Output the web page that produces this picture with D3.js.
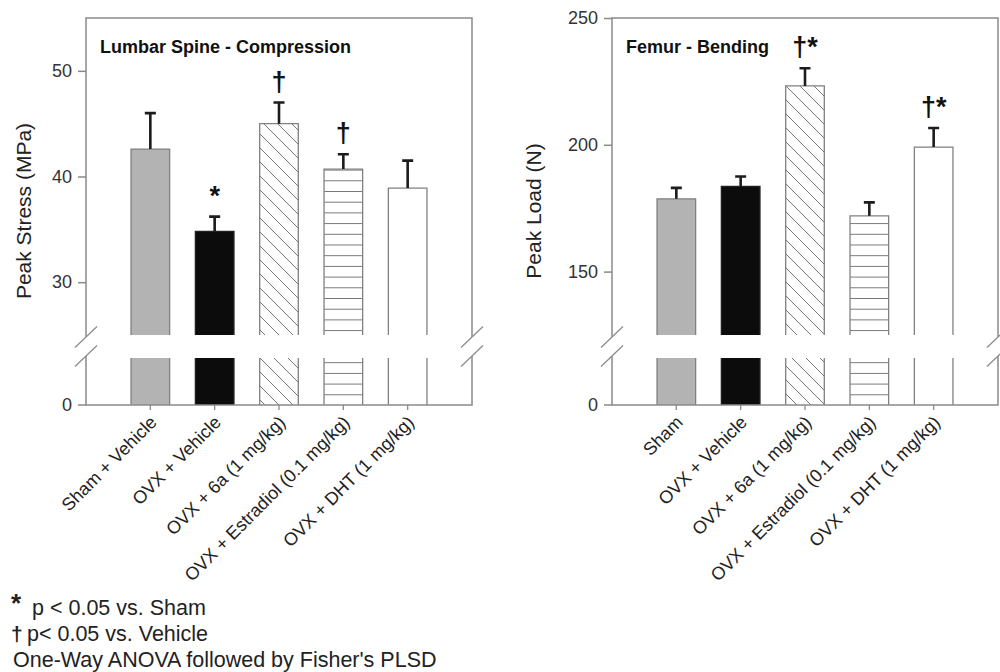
<!DOCTYPE html>
<html>
<head>
<meta charset="utf-8">
<script src="https://cdn.jsdelivr.net/npm/d3@7"></script>
<style>
  body { margin: 0; background: #fff; }
  svg { display: block; font-family: "Liberation Sans", Arial, sans-serif; }
</style>
</head>
<body>
<svg id="chart" width="1000" height="672"></svg>
<script>
// ---- data ----
const groupsSpine = ["Sham + Vehicle", "OVX + Vehicle", "OVX + 6a (1 mg/kg)", "OVX + Estradiol (0.1 mg/kg)", "OVX + DHT (1 mg/kg)"];
const groupsFemur = ["Sham", "OVX + Vehicle", "OVX + 6a (1 mg/kg)", "OVX + Estradiol (0.1 mg/kg)", "OVX + DHT (1 mg/kg)"];
const fills = ["gray", "black", "diag", "horiz", "white"];

const stressMean = [42.6, 34.8, 45.0, 40.7, 38.9];
const stressSem  = [3.4, 1.4, 2.0, 1.4, 2.6];
const stressSig  = ["", "*", "\u2020", "\u2020", ""];
const stressTicks = [30, 40, 50];

const loadMean = [178.7, 183.6, 223.2, 172.0, 199.1];
const loadSem  = [4.3, 3.9, 7.0, 5.3, 7.5];
const loadSig  = ["", "", "\u2020*", "", "\u2020*"];
const loadTicks = [150, 200, 250];

const legendLines = ["p < 0.05 vs. Sham", "p< 0.05 vs. Vehicle", "One-Way ANOVA followed by Fisher's PLSD"];

const svg = d3.select("#chart");
const frameCol = "#8a8a8a";
const textCol = "#222";

// hatch patterns
const defs = svg.append("defs");
defs.append("pattern")
    .attr("id", "diag")
    .attr("patternUnits", "userSpaceOnUse")
    .attr("width", 14).attr("height", 14)
  .append("path")
    .attr("d", "M-2,-2 L16,16 M-2,12 L2,16 M12,-2 L16,2")
    .attr("stroke", "#777").attr("stroke-width", 1).attr("fill", "none");
const hp = defs.append("pattern")
    .attr("id", "horiz")
    .attr("patternUnits", "userSpaceOnUse")
    .attr("width", 10).attr("height", 10.7)
    .attr("y", 405 - 10.7 * 3);
hp.append("rect").attr("width", 10).attr("height", 10.7).attr("fill", "#fff");
hp.append("line").attr("x1", 0).attr("x2", 10).attr("y1", 0.5).attr("y2", 0.5)
    .attr("stroke", "#777").attr("stroke-width", 1);

const fillOf = f => f === "gray" ? "#b3b3b3" : f === "black" ? "#0c0c0c" : f === "white" ? "#fff" : `url(#${f})`;
const strokeOf = f => f === "black" ? "#222" : "#808080";

function panel(cfg) {
  const { x0, x1, groups, mean, sem, sig, domain, ticks, title, ylabel, ylabelX } = cfg;
  const yTop = 18, breakHi = 335, breakLo = 358, yBase = 405;
  const gapHi = 337, gapLo = 356;

  const x = d3.scaleBand().domain(groups).range([x0, x1]).paddingInner(0.4).paddingOuter(0.7);
  const y = d3.scaleLinear().domain(domain).range([breakHi, yTop]);
  const g = svg.append("g");

  // bars
  groups.forEach((name, i) => {
    const bx = x(name), bw = x.bandwidth(), top = y(mean[i]);
    g.append("rect").attr("x", bx).attr("y", top).attr("width", bw).attr("height", breakHi - top)
      .attr("fill", fillOf(fills[i]));
    g.append("rect").attr("x", bx).attr("y", breakLo).attr("width", bw).attr("height", yBase - breakLo)
      .attr("fill", fillOf(fills[i]));
    g.append("path")
      .attr("d", `M${bx},${breakHi}V${top}H${bx + bw}V${breakHi}M${bx},${breakLo}V${yBase}M${bx + bw},${breakLo}V${yBase}`)
      .attr("fill", "none").attr("stroke", strokeOf(fills[i])).attr("stroke-width", 1.3);
    // error bar
    const cx = bx + bw / 2, et = y(mean[i] + sem[i]);
    g.append("path").attr("d", `M${cx},${top}V${et}M${cx - 5.5},${et}H${cx + 5.5}`)
      .attr("fill", "none").attr("stroke", "#1c1c1c").attr("stroke-width", 2.6);
    if (sig[i]) {
      g.append("text").attr("x", cx).attr("y", et - 12)
        .attr("text-anchor", "middle").attr("font-size", 27).attr("font-weight", "bold")
        .attr("fill", "#111").text(sig[i]);
    }
  });

  // frame with axis breaks
  const fr = g.append("g").attr("fill", "none").attr("stroke", frameCol).attr("stroke-width", 1.5);
  fr.append("path").attr("d", `M${x0},${gapHi}V${yTop}H${x1}V${gapHi}`);
  fr.append("path").attr("d", `M${x0},${gapLo}V${yBase}H${x1}V${gapLo}`);
  fr.append("path").attr("d", `M${x0 - 8},${yBase}H${x0}`);
  [x0, x1].forEach(ax => {
    [gapHi, gapLo].forEach(gy => {
      fr.append("line").attr("x1", ax - 11).attr("y1", gy + 10.5).attr("x2", ax + 11).attr("y2", gy - 10.5)
        .attr("stroke-width", 1.2);
    });
  });

  // y axis (upper segment)
  const ax = g.append("g").attr("transform", `translate(${x0},0)`)
    .call(d3.axisLeft(y).tickValues(ticks).tickSize(8).tickPadding(6));
  ax.select(".domain").remove();
  ax.selectAll(".tick line").attr("stroke", frameCol).attr("stroke-width", 1.5);
  ax.selectAll(".tick text").attr("font-size", 18).attr("fill", "#333").attr("font-family", null);
  // zero tick label on lower segment
  g.append("text").attr("x", x0 - 14).attr("y", yBase).attr("dy", "0.35em")
    .attr("text-anchor", "end").attr("font-size", 18).attr("fill", "#333").text("0");

  // x ticks and rotated labels
  groups.forEach(name => {
    const cx = x(name) + x.bandwidth() / 2;
    g.append("line").attr("x1", cx).attr("x2", cx).attr("y1", yBase).attr("y2", yBase + 5)
      .attr("stroke", frameCol).attr("stroke-width", 1.3);
    g.append("text")
      .attr("transform", `translate(${cx + 3},${yBase + 14}) rotate(-45)`)
      .attr("text-anchor", "end").attr("dy", "0.35em")
      .attr("font-size", 18).attr("fill", textCol).text(name);
  });

  // title and y label
  g.append("text").attr("x", x0 + 14).attr("y", 53)
    .attr("font-size", 18).attr("font-weight", "bold").attr("fill", "#111").text(title);
  g.append("text")
    .attr("transform", `translate(${ylabelX},211) rotate(-90)`)
    .attr("text-anchor", "middle").attr("dy", "0.35em")
    .attr("font-size", 21).attr("fill", textCol).text(ylabel);
}

panel({ x0: 86, x1: 472, groups: groupsSpine, mean: stressMean, sem: stressSem, sig: stressSig,
        domain: [25, 55], ticks: stressTicks, title: "Lumbar Spine - Compression",
        ylabel: "Peak Stress (MPa)", ylabelX: 24 });
panel({ x0: 612, x1: 998, groups: groupsFemur, mean: loadMean, sem: loadSem, sig: loadSig,
        domain: [125, 250], ticks: loadTicks, title: "Femur - Bending",
        ylabel: "Peak Load (N)", ylabelX: 534 });

// footnote legend
const leg = svg.append("g").attr("fill", textCol).attr("font-size", 21.5);
leg.append("text").attr("x", 11).attr("y", 612).attr("font-size", 26).attr("font-weight", "bold").text("*");
leg.append("text").attr("x", 32).attr("y", 615).text(legendLines[0]);
leg.append("text").attr("x", 11).attr("y", 641).attr("font-size", 21).attr("font-weight", "bold").text("\u2020");
leg.append("text").attr("x", 27).attr("y", 641).text(legendLines[1]);
leg.append("text").attr("x", 13).attr("y", 667).text(legendLines[2]);
</script>
</body>
</html>
